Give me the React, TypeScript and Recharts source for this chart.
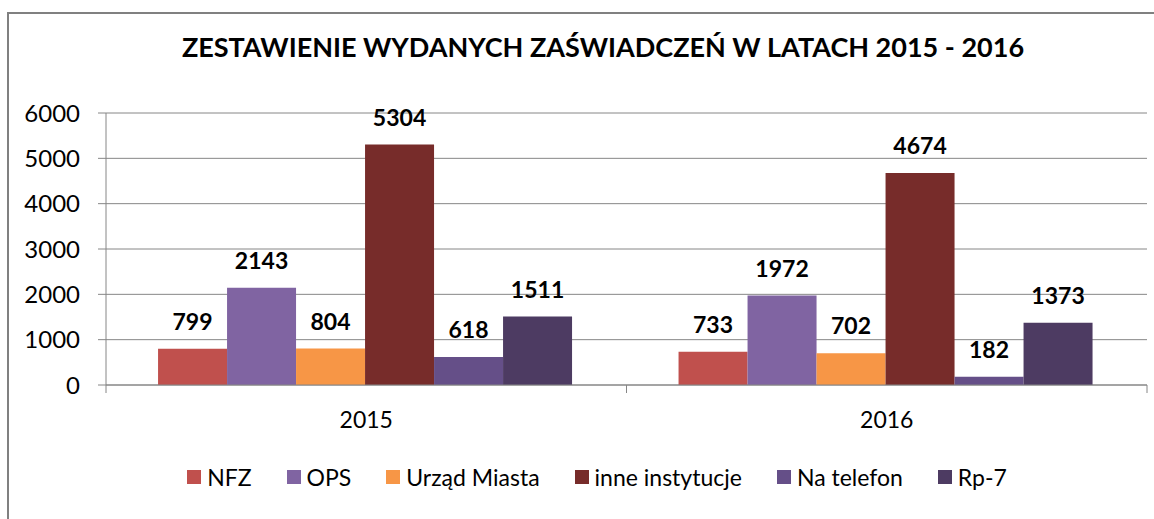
import React from "react";
import { BarChart, Bar, XAxis, YAxis, CartesianGrid, Legend, LabelList } from "recharts";

const years = ["2015", "2016"];
const nfz = [799, 733];
const ops = [2143, 1972];
const urzad = [804, 702];
const inne = [5304, 4674];
const naTelefon = [618, 182];
const rp7 = [1511, 1373];
const yTicks = [0, 1000, 2000, 3000, 4000, 5000, 6000];

const series = [
  { key: "nfz", name: "NFZ", color: "#C0504D", values: nfz },
  { key: "ops", name: "OPS", color: "#8064A2", values: ops },
  { key: "urzad", name: "Urząd Miasta", color: "#F79646", values: urzad },
  { key: "inne", name: "inne instytucje", color: "#772C2A", values: inne },
  { key: "tel", name: "Na telefon", color: "#654F88", values: naTelefon },
  { key: "rp7", name: "Rp-7", color: "#4D3B62", values: rp7 },
];

const chartData = years.map((year, i) => {
  const row: Record<string, string | number> = { year };
  series.forEach((s) => {
    row[s.key] = s.values[i];
  });
  return row;
});

const FONT = "Lato, 'Open Sans', sans-serif";
const AXIS = "#868686";

function ValueLabel(props: any) {
  const { x, y, width, value } = props;
  return (
    <text
      x={x + width / 2}
      y={y - 28}
      textAnchor="middle"
      dominantBaseline="central"
      fontFamily={FONT}
      fontWeight="bold"
      fontSize={23}
      fill="#000"
    >
      {value}
    </text>
  );
}

// category label plus tick marks on the category boundaries
function YearTick(props: any) {
  const { x, y, payload, width, visibleTicksCount } = props;
  const half = payload && payload.offset ? payload.offset : width / (visibleTicksCount || 1) / 2;
  return (
    <g>
      <line x1={x - half} x2={x - half} y1={y} y2={y + 8} stroke={AXIS} />
      <line x1={x + half} x2={x + half} y1={y} y2={y + 8} stroke={AXIS} />
      <text x={x} y={y + 43} textAnchor="middle" fontFamily={FONT} fontSize={23} fill="#000">
        {payload.value}
      </text>
    </g>
  );
}

function LegendBox() {
  return (
    <div style={{ display: "flex", justifyContent: "center", alignItems: "center", fontFamily: FONT, fontSize: 23, color: "#000" }}>
      {series.map((s, i) => (
        <div key={s.key} style={{ display: "flex", alignItems: "center", marginRight: i === series.length - 1 ? 0 : 35 }}>
          <span style={{ display: "inline-block", width: 14, height: 14, background: s.color, marginRight: 6 }} />
          <span>{s.name}</span>
        </div>
      ))}
    </div>
  );
}

export default function App() {
  return (
    <div style={{ position: "absolute", left: 0, top: 0, width: 1154, height: 519, overflow: "hidden", background: "#fff" }}>
      <div
        style={{
          position: "absolute",
          left: 7,
          top: 12,
          width: 1300,
          height: 700,
          borderTop: "2px solid #808080",
          borderLeft: "2px solid #808080",
        }}
      />
      <div
        style={{
          position: "absolute",
          left: 0,
          top: 30,
          width: 1206,
          textAlign: "center",
          fontFamily: FONT,
          fontWeight: "bold",
          fontSize: 27,
          color: "#000",
        }}
      >
        ZESTAWIENIE WYDANYCH ZAŚWIADCZEŃ W LATACH 2015 - 2016
      </div>
      <div style={{ position: "absolute", left: 0, top: 0 }}>
        <BarChart
          width={1154}
          height={519}
          data={chartData}
          margin={{ top: 113, right: 7, bottom: 94, left: 0 }}
          barCategoryGap="10%"
          barGap={0}
        >
          <CartesianGrid vertical={false} stroke={AXIS} strokeWidth={1} />
          <XAxis
            dataKey="year"
            axisLine={{ stroke: AXIS }}
            tickLine={false}
            tickSize={0}
            tickMargin={0}
            height={40}
            tick={<YearTick />}
          />
          <YAxis
            width={106}
            domain={[0, 6000]}
            ticks={yTicks}
            interval={0}
            axisLine={{ stroke: AXIS }}
            tickLine={{ stroke: AXIS }}
            tickSize={8}
            tickMargin={18}
            tick={{ fontFamily: FONT, fontSize: 24, fill: "#000" }}
          />
          <Legend
            layout="vertical"
            align="center"
            verticalAlign="middle"
            content={<LegendBox />}
            wrapperStyle={{ left: 0, top: 463, width: 1194 }}
          />
          {series.map((s) => (
            <Bar key={s.key} dataKey={s.key} name={s.name} fill={s.color} isAnimationActive={false}>
              <LabelList dataKey={s.key} content={<ValueLabel />} />
            </Bar>
          ))}
        </BarChart>
      </div>
    </div>
  );
}
